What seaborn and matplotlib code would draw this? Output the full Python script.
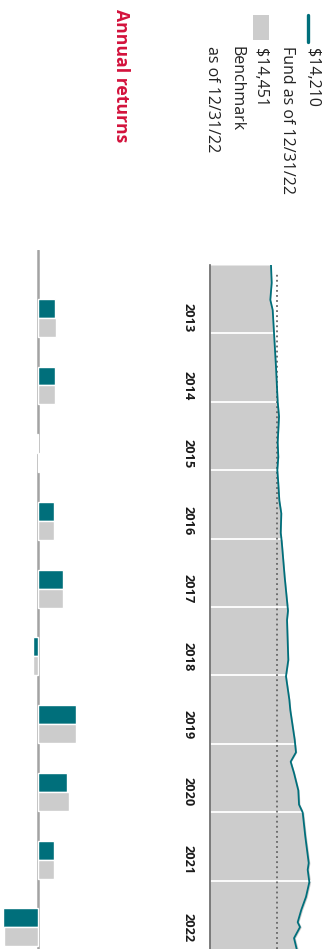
"""Growth of $10,000 and annual returns, drawn sideways like the source graphic."""

import matplotlib

matplotlib.use("Agg")

import matplotlib.pyplot as plt
import pandas as pd
import seaborn as sns
from matplotlib.lines import Line2D
from matplotlib.patches import Rectangle


TEAL = "#006f7b"
GREY = "#cccccc"
RED = "#d3123c"

# annual returns (%)
years = ["2013", "2014", "2015", "2016", "2017", "2018", "2019", "2020", "2021", "2022"]
fund_returns = [5.5, 5.5, -0.4, 5.2, 8.1, -1.8, 12.4, 9.5, 5.2, -11.7]
benchmark_returns = [5.8, 5.5, 0.3, 5.2, 8.1, -1.8, 12.4, 10.1, 5.2, -11.3]

# growth of a $10,000 investment
growth_dates = [
    "2012-12-31", "2013-04-05", "2013-07-05", "2013-08-28", "2013-12-31",
    "2014-06-28", "2014-12-31", "2015-03-20", "2015-08-05", "2015-10-22",
    "2015-12-31", "2016-03-10", "2016-06-10", "2016-08-18", "2016-11-30",
    "2017-01-15", "2017-07-25", "2018-01-20", "2018-03-10", "2018-10-10",
    "2019-01-05", "2019-05-10", "2019-07-05", "2019-12-10", "2020-02-15",
    "2020-04-05", "2020-06-05", "2020-09-05", "2020-11-20", "2021-01-01",
    "2021-05-10", "2021-09-28", "2021-11-03", "2022-01-08", "2022-03-28",
    "2022-06-05", "2022-08-10", "2022-09-05", "2022-11-03", "2022-12-31",
]
fund_growth = [
    10000, 10120, 9890, 10280, 10500, 10820, 11100, 11320, 11100, 11200,
    11040, 11200, 11370, 11690, 11600, 11760, 12250, 12790, 12630, 12840,
    12460, 13010, 13170, 13890, 14100, 13230, 13780, 14480, 14600, 15200,
    15630, 16190, 16020, 16290, 15740, 14970, 14380, 14760, 13780, 14210,
]
benchmark_growth = [
    10000, 10150, 9930, 10300, 10560, 10880, 11160, 11380, 11160, 11260,
    11110, 11250, 11440, 11770, 11680, 11840, 12330, 12880, 12710, 12930,
    12550, 13100, 13270, 14000, 14220, 13330, 13900, 14620, 14760, 15370,
    15810, 16380, 16220, 16500, 15950, 15180, 14580, 14970, 13990, 14451,
]
reference_value = 11000
year_ends = ["2013-12-31", "2014-12-31", "2015-12-31", "2016-12-31", "2017-12-31",
             "2018-12-31", "2019-12-31", "2020-12-31", "2021-12-31"]

legend_fund = ["$14,210", "Fund as of 12/31/22"]
legend_bench = ["$14,451", "Benchmark", "as of 12/31/22"]

W, H = 333, 949


def fx(x):
    return x / W


def fy(y):
    return 1 - y / H


sns.set_style("white")
plt.rcParams["font.family"] = ["Open Sans", "DejaVu Sans"]

fig = plt.figure(figsize=(W / 100, H / 100), dpi=100)

# --- growth chart (time runs downwards, value to the right) ---
ax_g = fig.add_axes([fx(210), 0, fx(123), (H - 265) / H])
dates = pd.to_datetime(growth_dates)
ax_g.fill_betweenx(dates, 0, benchmark_growth, color=GREY, lw=0)
for d in pd.to_datetime(year_ends):
    ax_g.axhline(d, color="white", lw=1.3)
ax_g.axvline(reference_value, color="#666666", lw=1.3, ls=(0, (1, 1.8)),
             ymax=1 - 7 / 684)
sns.lineplot(x=fund_growth, y=dates, orient="y", color=TEAL, lw=1.3, ax=ax_g)
ax_g.set_xlim(0, 20170)
ax_g.set_ylim(pd.Timestamp("2022-12-31"), pd.Timestamp("2012-12-31"))
ax_g.set_xticks([])
ax_g.set_yticks([])
ax_g.set_xlabel("")
ax_g.set_ylabel("")
for side in ["top", "right", "bottom"]:
    ax_g.spines[side].set_visible(False)
ax_g.spines["left"].set_color("#666666")
ax_g.spines["left"].set_linewidth(1.2)
ax_g.patch.set_alpha(0)

# --- annual return bars ---
ax_b = fig.add_axes([0, 0, fx(180), (H - 250) / H])
returns_df = pd.DataFrame({
    "year": years * 2,
    "ret": fund_returns + benchmark_returns,
    "series": ["Fund"] * len(years) + ["Benchmark"] * len(years),
})
sns.barplot(data=returns_df, y="year", x="ret", hue="series", orient="h",
            palette=[TEAL, GREY], saturation=1, width=0.56, legend=False, ax=ax_b)
ax_b.axvline(0, color="#a3a3a3", lw=1.8, zorder=0)
ax_b.set_xlim(-12.7, 46.7)
ax_b.set_ylim(9.32, -1.0)
ax_b.set_xticks([])
ax_b.set_xlabel("")
ax_b.set_ylabel("")
ax_b.tick_params(axis="y", length=0, labelleft=False, labelright=True, pad=1)
for lbl in ax_b.get_yticklabels():
    lbl.set_rotation(-90)
    lbl.set_fontweight("bold")
    lbl.set_fontsize(9.2)
    lbl.set_ha("left")
    lbl.set_va("center")
    lbl.set_color("#1a1a1a")
sns.despine(ax=ax_b, left=True, bottom=True)
ax_b.patch.set_alpha(0)

# --- legend and title, rotated like the rest ---
fig.add_artist(Line2D([fx(308.3), fx(308.3)], [fy(15), fy(42)], color=TEAL, lw=2.4))
fig.add_artist(Rectangle((fx(253), fy(40)), fx(16), 25 / H, color=GREY, lw=0))

txt = dict(rotation=-90, ha="center", va="top", fontsize=11.5, color="#222222")
fig.text(fx(312), fy(48), legend_fund[0], **txt)
fig.text(fx(287), fy(46), legend_fund[1], **txt)
fig.text(fx(260), fy(48), legend_bench[0], **txt)
fig.text(fx(236), fy(46), legend_bench[1], **txt)
fig.text(fx(212), fy(46), legend_bench[2], **txt)

fig.text(fx(121), fy(9), "Annual returns", rotation=-90, ha="center", va="top",
         fontsize=12.7, fontweight="bold", color=RED)

fig.savefig("out.png", dpi=100)
